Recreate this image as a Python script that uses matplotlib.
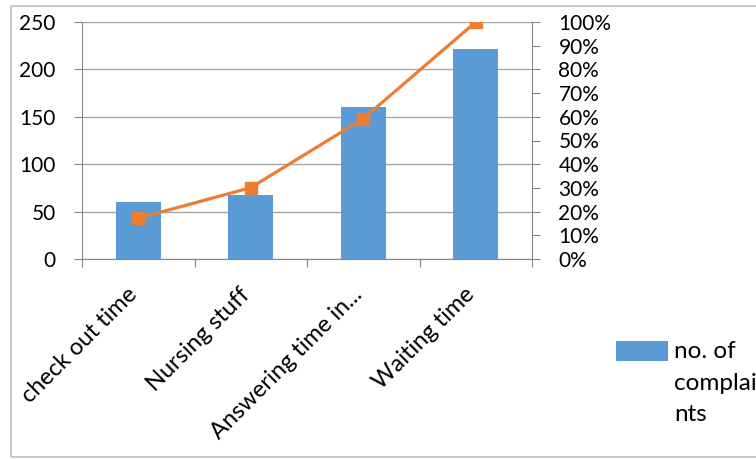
import matplotlib
matplotlib.use("Agg")
import matplotlib.pyplot as plt
from matplotlib.ticker import PercentFormatter, FixedLocator
from matplotlib.patches import Rectangle
from matplotlib.legend_handler import HandlerPatch

categories = ["check out time", "Nursing stuff", "Answering time in...", "Waiting time"]
complaints = [60, 67, 160, 221]
cumulative_pct = [0.172, 0.301, 0.592, 1.0]
left_ticks = [0, 50, 100, 150, 200, 250]
right_ticks = [0, 0.1, 0.2, 0.3, 0.4, 0.5, 0.6, 0.7, 0.8, 0.9, 1.0]
legend_label = "no. of\ncomplai\nnts"

BLUE = "#5B9BD5"
ORANGE = "#ED7D31"
GRID = "#A6A6A6"
AXC = "#868686"
FONT = "Lato"
FS = 15
FS_X = 17
FS_LEG = 17.5

plt.rcParams["font.family"] = [FONT, "DejaVu Sans"]

W, H = 756, 459
fig = plt.figure(figsize=(W / 100, H / 100), dpi=100)
ax = fig.add_axes([82 / W, 1 - 259 / H, (532 - 82) / W, (259 - 22) / H])

x = list(range(len(categories)))
bars = ax.bar(x, complaints, width=0.4, color=BLUE, zorder=2, label=legend_label)
ax.set_xlim(-0.5, len(categories) - 0.5)
ax.set_ylim(0, 250)
ax.yaxis.set_major_locator(FixedLocator(left_ticks))
ax.grid(axis="y", color=GRID, linewidth=1.0, zorder=0)
ax.set_axisbelow(True)
for s in ["top", "right"]:
    ax.spines[s].set_visible(False)
ax.spines["left"].set_color(AXC)
ax.spines["bottom"].set_color(AXC)
ax.tick_params(axis="y", length=6, color=AXC, labelsize=FS, pad=13)

# category boundary ticks
ax.set_xticks([i - 0.5 for i in range(len(categories) + 1)])
ax.set_xticklabels([])
ax.tick_params(axis="x", length=6, color=AXC)
for i, c in enumerate(categories):
    ax.annotate(c, xy=(i, 0), xycoords=("data", "axes fraction"),
                xytext=(-8.5, -18), textcoords="offset points",
                rotation=45, ha="right", va="top", rotation_mode="anchor",
                fontsize=FS_X)

ax2 = ax.twinx()
ax2.plot(x, cumulative_pct, color=ORANGE, linewidth=2.3, marker="s",
         markersize=9, zorder=3)
ax2.set_ylim(0, 1.0)
ax2.yaxis.set_major_locator(FixedLocator(right_ticks))
ax2.yaxis.set_major_formatter(PercentFormatter(1.0, decimals=0))
for s in ["top", "left", "bottom"]:
    ax2.spines[s].set_visible(False)
ax2.spines["right"].set_color(AXC)
ax2.tick_params(axis="y", length=6, color=AXC, labelsize=FS, pad=13)

# outer chart border
fig.patches.append(Rectangle((11 / W, 1 - 457 / H), 1.2, (457 - 6) / H,
                             transform=fig.transFigure, fill=False,
                             edgecolor="#BFBFBF", linewidth=1.2))


def low_rect(legend, orig_handle, xdescent, ydescent, width, height, fontsize):
    return Rectangle((-xdescent, -ydescent), width, height * 0.72)


leg = fig.legend(handles=[bars], labels=[legend_label],
                 loc="upper left", bbox_to_anchor=(616 / W, 1 - 341 / H),
                 frameon=False, fontsize=FS_LEG, handlelength=2.14,
                 handleheight=0.86, handletextpad=0.25, borderpad=0,
                 borderaxespad=0,
                 handler_map={type(bars.patches[0]): HandlerPatch(patch_func=low_rect)})
for t in leg.get_texts():
    t.set_linespacing(1.62)
for col in leg._legend_handle_box.get_children():
    for item in col.get_children():
        item.align = "top"

fig.savefig("out.png", dpi=100)
